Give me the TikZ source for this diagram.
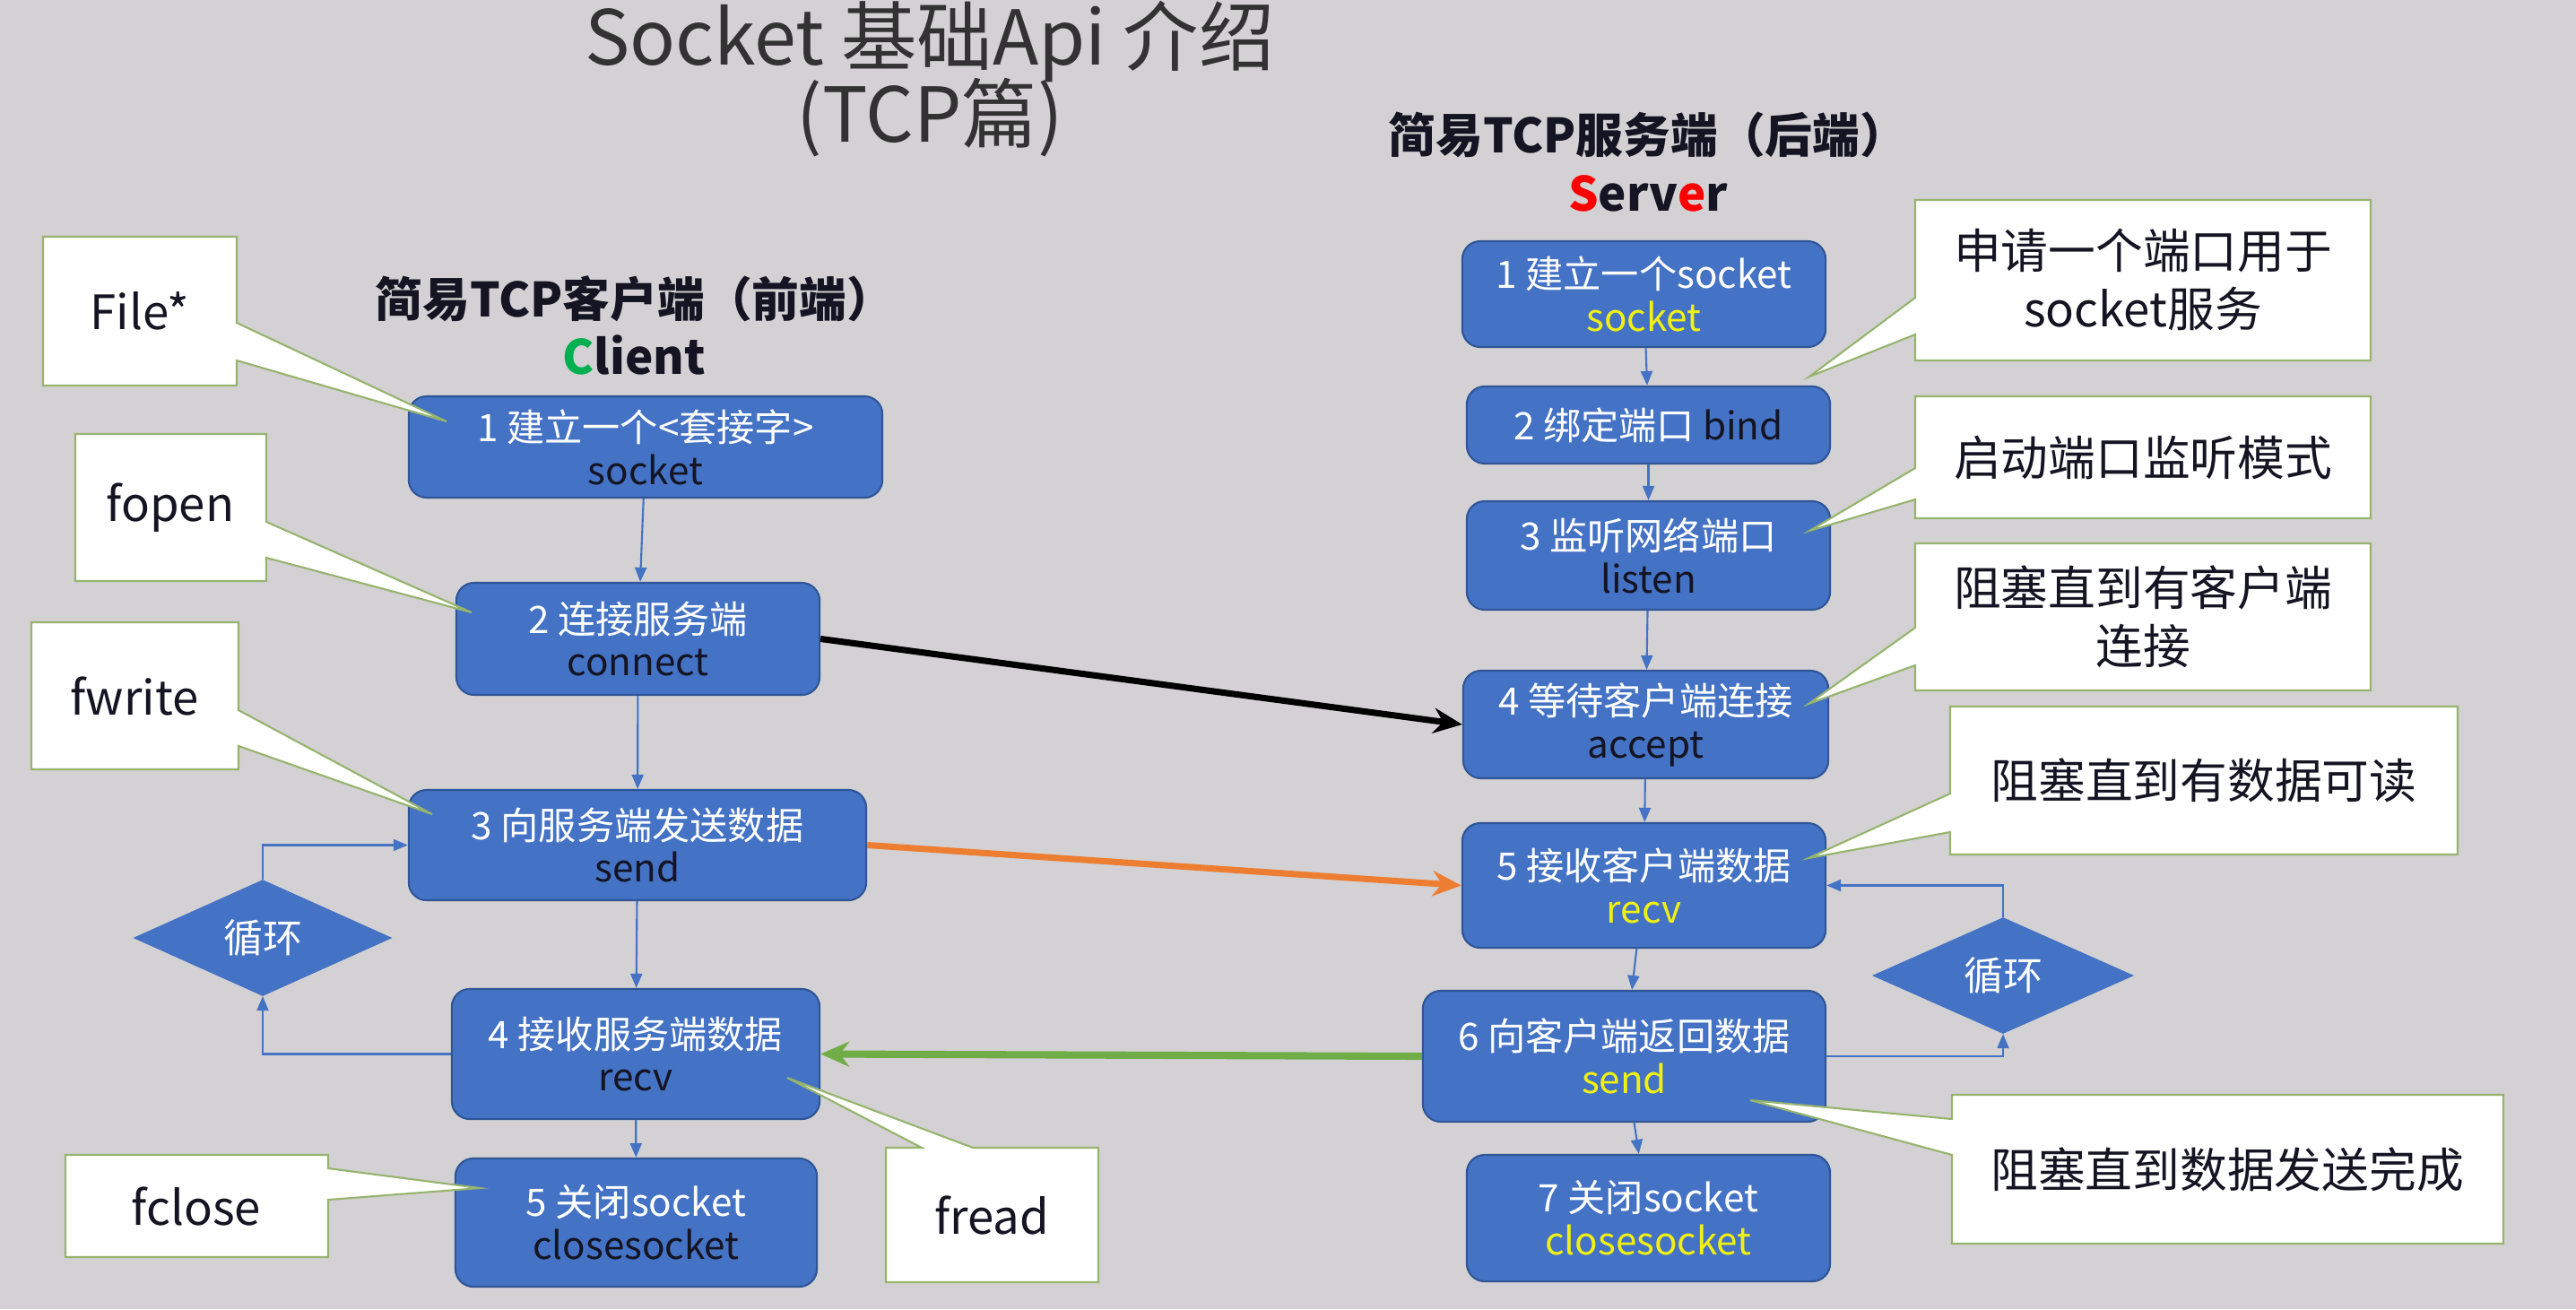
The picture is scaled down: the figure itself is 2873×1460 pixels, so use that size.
\documentclass[tikz,border=0pt]{standalone}
\usepackage{fontspec}
\setmainfont{Noto Sans CJK SC}
\usetikzlibrary{arrows.meta,shapes.geometric}
\definecolor{bg}{RGB}{211,209,211}
\definecolor{boxblue}{RGB}{68,114,196}
\definecolor{boxedge}{RGB}{47,85,151}
\definecolor{calledge}{RGB}{150,180,110}
\definecolor{darktxt}{RGB}{20,20,35}
\definecolor{ylw}{RGB}{240,240,20}
\definecolor{orangeA}{RGB}{237,125,49}
\definecolor{greenA}{RGB}{112,173,71}
\definecolor{clientgreen}{RGB}{0,176,80}
\definecolor{titlegray}{RGB}{50,50,50}
\tikzset{
 stepbox/.style={draw=boxedge, line width=0.6pt, fill=boxblue, rounded corners=0.2cm, align=center, inner sep=0pt, text=white, font=\fontsize{12}{13.6}\selectfont},
 loopdia/.style={diamond, draw=boxblue, fill=boxblue, inner sep=0pt, text=white, font=\fontsize{12.5}{14}\selectfont},
 flow/.style={draw=boxblue, line width=0.6pt, -{Triangle[length=0.16cm,width=0.13cm]}},
 callout/.style={draw=calledge, fill=white, line width=0.6pt},
 calltext/.style={align=center, text=darktxt, font=\fontsize{15}{18.5}\selectfont},
 cross/.style={line width=2pt, -{Stealth[length=0.32cm,width=0.28cm]}},
 heading/.style={font=\bfseries\fontsize{15}{18}\selectfont, text=darktxt},
 titletext/.style={font=\fontsize{24}{25}\selectfont, text=titlegray},
}
\begin{document}
\begin{tikzpicture}[x=0.01cm, y=-0.01cm]
\fill[bg] (0,0) rectangle (2873,1460);
\useasboundingbox (0,0) rectangle (2873,1460);

% titles
\node[titletext] (title1) at (1037,46) {Socket 基础Api 介绍};
\node[titletext] (title2) at (1037,131) {(TCP篇)};
\node[heading] (shead) at (1838,150) {简易TCP服务端（后端）};
\node[heading] (sname) at (1838,216) {\textcolor{red}{S}erv\textcolor{red}{e}r};
\node[heading] (chead) at (708,333) {简易TCP客户端（前端）};
\node[heading] (cname) at (707,396) {\textcolor{clientgreen}{C}lient};

% client boxes
\node[stepbox, minimum width=5.28cm, minimum height=1.13cm] (c1) at (720,498.5) {1 建立一个<套接字>\\\textcolor{darktxt}{socket}};
\node[stepbox, minimum width=4.05cm, minimum height=1.25cm] (c2) at (711.5,712.5) {2 连接服务端\\\textcolor{darktxt}{connect}};
\node[stepbox, minimum width=5.10cm, minimum height=1.23cm] (c3) at (711,942.5) {3 向服务端发送数据\\\textcolor{darktxt}{send}};
\node[stepbox, minimum width=4.10cm, minimum height=1.45cm] (c4) at (709,1175.5) {4 接收服务端数据\\\textcolor{darktxt}{recv}};
\node[stepbox, minimum width=4.03cm, minimum height=1.43cm] (c5) at (709.5,1363.5) {5 关闭socket\\\textcolor{darktxt}{closesocket}};

% server boxes
\node[stepbox, minimum width=4.05cm, minimum height=1.18cm] (s1) at (1833.5,328) {1 建立一个socket\\\textcolor{ylw}{socket}};
\node[stepbox, minimum width=4.05cm, minimum height=0.86cm] (s2) at (1838.5,474) {2 绑定端口 \textcolor{darktxt}{bind}};
\node[stepbox, minimum width=4.05cm, minimum height=1.21cm] (s3) at (1838.5,619.5) {3 监听网络端口\\\textcolor{darktxt}{listen}};
\node[stepbox, minimum width=4.07cm, minimum height=1.20cm] (s4) at (1835.5,808) {4 等待客户端连接\\\textcolor{darktxt}{accept}};
\node[stepbox, minimum width=4.05cm, minimum height=1.39cm] (s5) at (1833.5,987.5) {5 接收客户端数据\\\textcolor{ylw}{recv}};
\node[stepbox, minimum width=4.49cm, minimum height=1.46cm] (s6) at (1811.5,1178) {6 向客户端返回数据\\\textcolor{ylw}{send}};
\node[stepbox, minimum width=4.05cm, minimum height=1.41cm] (s7) at (1838.5,1358.5) {7 关闭socket\\\textcolor{ylw}{closesocket}};

% loop diamonds
\node[loopdia, minimum width=2.86cm, minimum height=1.10cm] (d1) at (293,1046) {循环};
\node[loopdia, minimum width=2.89cm, minimum height=1.15cm] (d2) at (2234,1088) {循环};

% flows
\draw[flow] (c1) -- (c2);
\draw[flow] (c2) -- (c3);
\draw[flow] (c3) -- (c4);
\draw[flow] (c4) -- (c5);
\draw[flow] (s1) -- (s2);
\draw[flow] (s2) -- (s3);
\draw[flow] (s3) -- (s4);
\draw[flow] (s4) -- (s5);
\draw[flow] (s5) -- (s6);
\draw[flow] (s6) -- (s7);
\draw[flow] (c4.west) -| (d1.south);
\draw[flow] (d1.north) |- (c3.west);
\draw[flow] (s6.east) -| (d2.south);
\draw[flow] (d2.north) |- (s5.east);

% cross arrows
\draw[cross, black] (c2.east) -- (s4.west);
\draw[cross, orangeA] (c3.east) -- (s5.west);
\draw[cross, greenA, line width=2.3pt] (s6.west) -- (c4.east);

% left callouts
\draw[callout] (48,264) -- (264,264) -- (264,360) -- (498,470) -- (264,402) -- (264,430) -- (48,430) -- cycle;
\node[calltext] (tfile) at (156,347) {File*};
\draw[callout] (84,484) -- (297,484) -- (297,582) -- (526,683) -- (297,622) -- (297,648) -- (84,648) -- cycle;
\node[calltext] (topen) at (190,566) {fopen};
\draw[callout] (35,694) -- (266,694) -- (266,792) -- (482,908) -- (266,832) -- (266,858) -- (35,858) -- cycle;
\node[calltext] (twrite) at (150,776) {fwrite};
\draw[callout] (73,1288) -- (366,1288) -- (366,1303) -- (535,1325) -- (366,1338) -- (366,1402) -- (73,1402) -- cycle;
\node[calltext] (tclose) at (219,1345) {fclose};
\draw[callout] (988,1280) -- (1028,1280) -- (878,1202) -- (1085,1280) -- (1225,1280) -- (1225,1430) -- (988,1430) -- cycle;
\node[calltext] (tread) at (1106,1355) {fread};

% right callouts
\draw[callout] (2136,223) -- (2644,223) -- (2644,402) -- (2136,402) -- (2136,373) -- (2018,420) -- (2136,332) -- cycle;
\node[calltext] (tr1) at (2390,312) {申请一个端口用于\\socket服务};
\draw[callout] (2136,442) -- (2644,442) -- (2644,578) -- (2136,578) -- (2136,557) -- (2018,592) -- (2136,522) -- cycle;
\node[calltext] (tr2) at (2390,510) {启动端口监听模式};
\draw[callout] (2136,606) -- (2644,606) -- (2644,770) -- (2136,770) -- (2136,742) -- (2017,785) -- (2136,700) -- cycle;
\node[calltext] (tr3) at (2390,688) {阻塞直到有客户端\\连接};
\draw[callout] (2175,788) -- (2741,788) -- (2741,953) -- (2175,953) -- (2175,928) -- (2017,957) -- (2175,885) -- cycle;
\node[calltext] (tr4) at (2458,870) {阻塞直到有数据可读};
\draw[callout] (2177,1221) -- (2792,1221) -- (2792,1387) -- (2177,1387) -- (2177,1288) -- (1952,1227) -- (2177,1248) -- cycle;
\node[calltext] (tr5) at (2484,1304) {阻塞直到数据发送完成};
\end{tikzpicture}
\end{document}
